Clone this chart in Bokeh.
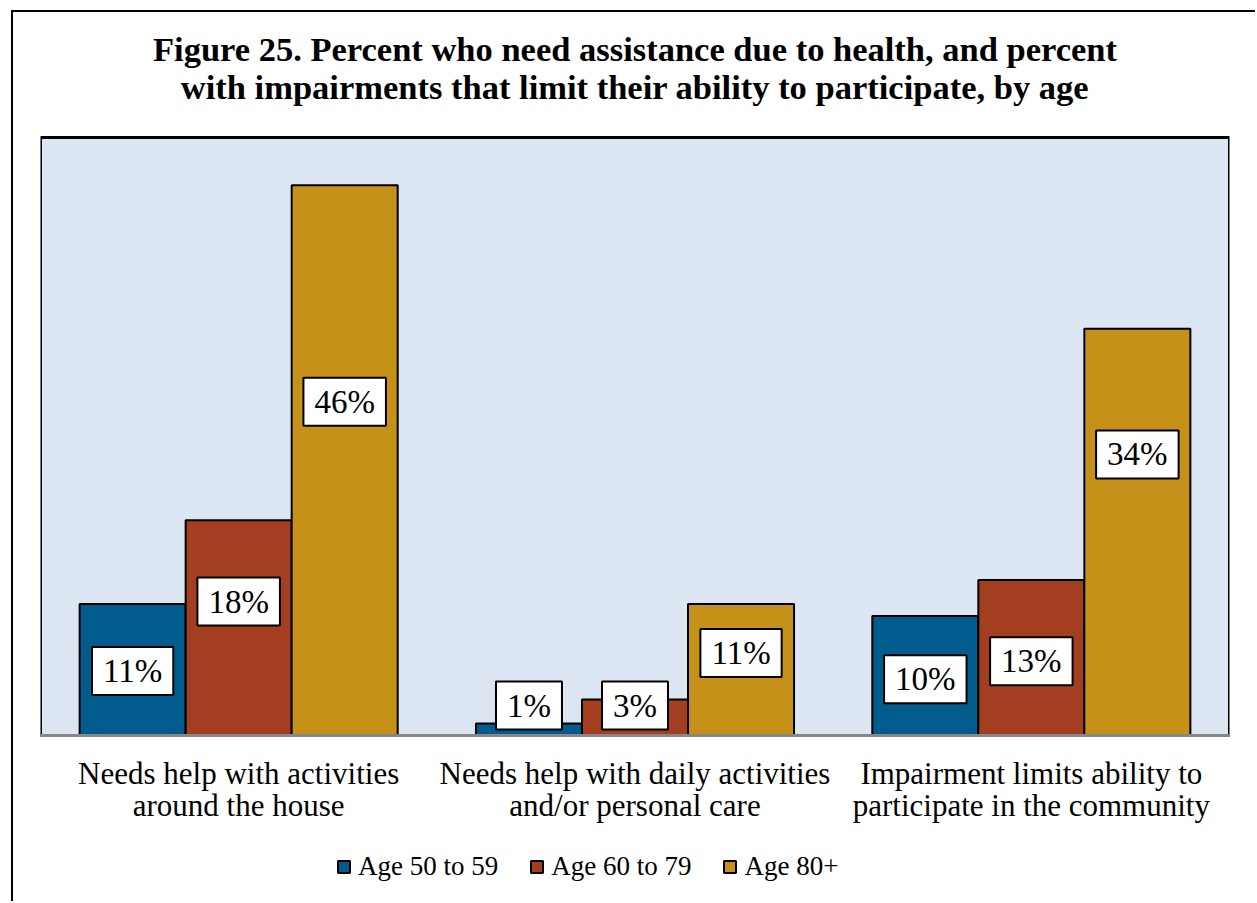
from bokeh.plotting import figure
from bokeh.models import (ColumnDataSource, Range1d, Legend, LegendItem,
                          Label, BoxAnnotation, Span)
from bokeh.core.properties import value
from bokeh.transform import dodge
from bokeh.embed import file_html
from bokeh.resources import INLINE

# ---- data -------------------------------------------------------------
categories = [
    "Needs help with activities\naround the house",
    "Needs help with daily activities\nand/or personal care",
    "Impairment limits ability to\nparticipate in the community",
]
series_names = ["Age 50 to 59", "Age 60 to 79", "Age 80+"]
age_50_59 = [11, 1, 10]
age_60_79 = [18, 3, 13]
age_80_plus = [46, 11, 34]

# where each value box sits, in percent units (manually placed labels)
label_pos_50_59 = [5.4, 2.5, 4.7]
label_pos_60_79 = [11.2, 2.5, 6.2]
label_pos_80_plus = [27.9, 6.9, 23.5]

title_lines = [
    "Figure 25. Percent who need assistance due to health, and percent",
    "with impairments that limit their ability to participate, by age",
]

colors = ["#015B8D", "#A33F20", "#C59119"]
serif = "Liberation Serif"

# ---- page geometry ----------------------------------------------------
# chart box starts at (11, 10) with a 2px border; the value axis runs
# 0..50 between page rows 735 and 137, and the frame fills the canvas
# vertically so titles, category names and legend can live inside it.
OX, OY, B = 11, 10, 2
CX, CY = OX + B, OY + B
W, H = 1257 - CX, 903 - CY
AX_BOTTOM, AX_TOP, VMAX = 735, 137, 50
PX_PER = (AX_BOTTOM - AX_TOP) / VMAX


def row(page_y):
    """value-axis coordinate of a page row"""
    return (AX_BOTTOM - page_y) / PX_PER


p = figure(
    x_range=categories, y_range=Range1d(row(903), row(CY)),
    width=W, height=H, output_backend="svg", toolbar_location=None,
    x_axis_location=None, y_axis_location=None,
    min_border_left=40 - CX, min_border_right=1257 - 1229,
    min_border_top=0, min_border_bottom=0,
    margin=(OY, 0, 0, OX),
    styles={"border-left": "2px solid black", "border-top": "2px solid black"},
)
p.background_fill_color = "white"
p.border_fill_color = "white"
p.outline_line_color = None
p.grid.visible = False
p.x_range.range_padding = 0

# plot area and category baseline
p.add_layout(BoxAnnotation(bottom=0, top=VMAX, fill_color="#DCE6F2", fill_alpha=1,
                           line_color="black", line_alpha=1, line_width=3,
                           level="underlay"))
p.add_layout(Span(location=0, dimension="width", line_color="#878787",
                  line_width=3))

offsets = [-0.2675, 0.0, 0.2675]
values = [age_50_59, age_60_79, age_80_plus]
label_pos = [label_pos_50_59, label_pos_60_79, label_pos_80_plus]

items = []
for name, vals, pos, off, col in zip(series_names, values, label_pos, offsets, colors):
    src = ColumnDataSource(dict(cat=categories, val=vals))
    r = p.vbar(x=dodge("cat", off, range=p.x_range), top="val", bottom=0,
               width=0.2675, source=src, fill_color=col,
               line_color="black", line_width=2)
    items.append(LegendItem(label=name, renderers=[r]))
    # value boxes: category i is centred at i + 0.5 on the factor scale
    for i, (v, y) in enumerate(zip(vals, pos)):
        p.add_layout(Label(
            x=i + 0.5 + off, y=y, text=f"{v}%",
            text_align="center", text_baseline="middle",
            text_font=serif, text_font_size="33px", text_color="black",
            background_fill_color="white", border_line_color="black",
            border_line_width=2,
            padding=dict(left=11, right=11, top=6, bottom=6)))

# category names under the baseline
cat_src = ColumnDataSource(dict(cat=categories, y=[row(789)] * len(categories)))
p.text(x="cat", y="y", text="cat", source=cat_src, text_align="center",
       text_baseline="middle", text_font=value(serif), text_font_size="31px",
       text_line_height=0.92, text_color="black")

# two-line title, centred over the plot area
for line, y_page in zip(title_lines, [48, 86]):
    p.add_layout(Label(x=1.5, y=row(y_page), text=line, text_align="center",
                       text_baseline="middle", text_font=serif,
                       text_font_size="34.5px", text_font_style="bold",
                       text_color="black"))

legend = Legend(items=items, orientation="horizontal", location=(296, 21),
                label_text_font=serif, label_text_font_size="27px",
                label_text_color="black", glyph_width=15, glyph_height=15,
                label_standoff=7, spacing=31, padding=0, margin=0,
                border_line_color=None, background_fill_alpha=0)
p.add_layout(legend, "center")

open("out.html", "w").write(file_html(p, INLINE))
